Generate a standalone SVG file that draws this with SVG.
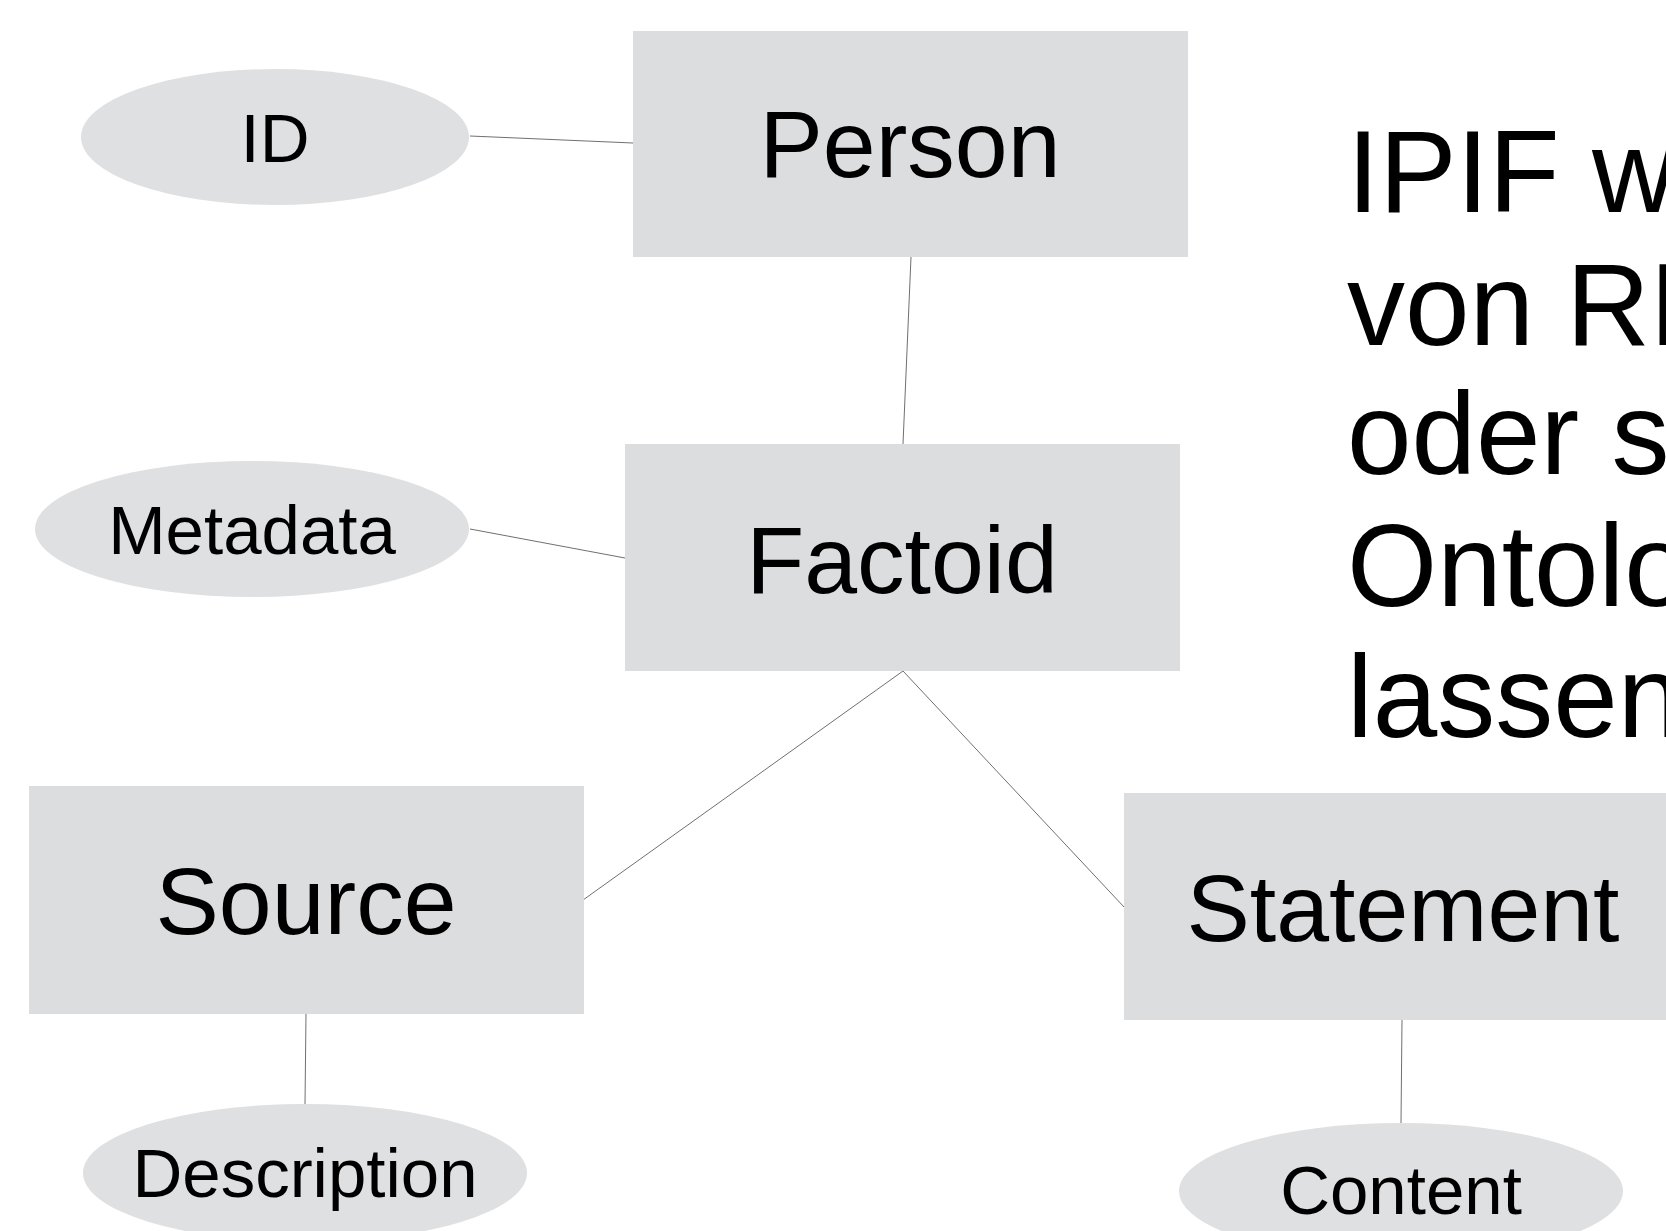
<svg xmlns="http://www.w3.org/2000/svg" width="1666" height="1231" viewBox="0 0 1666 1231">
  <style>
    .entity { fill: #dcdddf; }
    .attr { fill: #dfe0e2; }
    .lbl { font-family: "Liberation Sans", Arial, sans-serif; fill: #000; text-anchor: middle; }
    .big { font-size: 95px; }
    .small { font-size: 69px; }
    .note { font-family: "Liberation Sans", Arial, sans-serif; font-size: 116px; fill: #000; }
    .link { stroke: #707070; stroke-width: 1; fill: none; }
  </style>
  <rect width="1666" height="1231" fill="#ffffff"/>

  <!-- connectors -->
  <g id="connectors">
    <line class="link" x1="470" y1="136" x2="633" y2="143"/>
    <line class="link" x1="911" y1="257" x2="903" y2="444"/>
    <line class="link" x1="470" y1="529" x2="625" y2="558"/>
    <line class="link" x1="903" y1="671" x2="583" y2="900"/>
    <line class="link" x1="903" y1="671" x2="1124" y2="907"/>
    <line class="link" x1="306" y1="1014" x2="305" y2="1104"/>
    <line class="link" x1="1402" y1="1020" x2="1401" y2="1123"/>
  </g>

  <!-- entities -->
  <g id="person">
    <rect class="entity" x="633" y="31" width="555" height="226"/>
    <text class="lbl big" x="910" y="177">Person</text>
  </g>
  <g id="factoid">
    <rect class="entity" x="625" y="444" width="555" height="227"/>
    <text class="lbl big" x="902" y="593">Factoid</text>
  </g>
  <g id="source">
    <rect class="entity" x="29" y="786" width="555" height="228"/>
    <text class="lbl big" x="306" y="934">Source</text>
  </g>
  <g id="statement">
    <rect class="entity" x="1124" y="793" width="556" height="227"/>
    <text class="lbl big" x="1403" y="941">Statement</text>
  </g>

  <!-- attributes -->
  <g id="id">
    <ellipse class="attr" cx="275" cy="137" rx="194" ry="68"/>
    <text class="lbl small" x="275" y="162">ID</text>
  </g>
  <g id="metadata">
    <ellipse class="attr" cx="252" cy="529" rx="217" ry="68"/>
    <text class="lbl small" x="252" y="554">Metadata</text>
  </g>
  <g id="description">
    <ellipse class="attr" cx="305" cy="1173" rx="222" ry="69"/>
    <text class="lbl small" x="305" y="1197">Description</text>
  </g>
  <g id="content">
    <ellipse class="attr" cx="1401" cy="1191" rx="222" ry="68"/>
    <text class="lbl small" x="1401" y="1214">Content</text>
  </g>

  <!-- side note, running past the right edge -->
  <g id="note">
    <text class="note" x="1347" y="212">IPIF wird</text>
    <text class="note" x="1347" y="345">von RDF</text>
    <text class="note" x="1347" y="474">oder sonst</text>
    <text class="note" x="1347" y="606">Ontologie</text>
    <text class="note" x="1347" y="737">lassen</text>
  </g>
</svg>
